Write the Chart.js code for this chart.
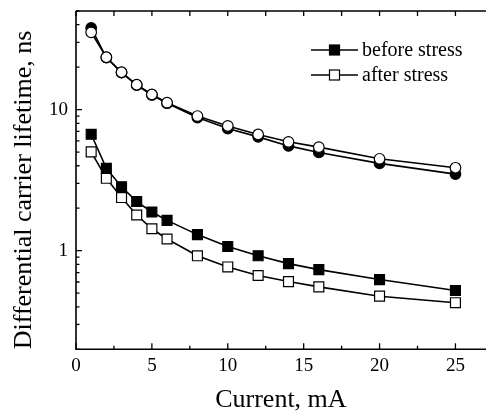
<!DOCTYPE html>
<html><head><meta charset="utf-8">
<script src="https://cdn.jsdelivr.net/npm/chart.js@4.4.0/dist/chart.umd.min.js"></script>
<style>html,body{margin:0;padding:0;background:#fff;overflow:hidden}#wrap{width:486px;height:416px;position:relative;overflow:hidden}</style>
</head><body><div id="wrap"><canvas id="c" width="494" height="416"></canvas></div>
<script>
const currents = [1,2,3,4,5,6,8,10,12,14,16,20,25];
const circBefore = [37.9,23.4,18.3,14.9,12.7,11.1,8.78,7.34,6.41,5.53,4.97,4.16,3.49];
const circAfter  = [35.3,23.5,18.4,15.0,12.8,11.2,9.0,7.66,6.66,5.91,5.42,4.48,3.87];
const sqBefore   = [6.69,3.83,2.84,2.23,1.88,1.64,1.30,1.07,0.92,0.81,0.734,0.624,0.522];
const sqAfter    = [5.02,3.26,2.38,1.79,1.43,1.21,0.92,0.767,0.667,0.604,0.554,0.476,0.428];
const xTicks = [0,5,10,15,20,25];
const xMinor = [2.5,7.5,12.5,17.5,22.5];
const yTicks = [1,10];
const legendLabels = ['before stress','after stress'];

const SERIF = "'Liberation Serif','Times New Roman',serif";
const pts = arr => currents.map((x,i)=>({x:x,y:arr[i]}));

function ds(label, arr, style, filled){
  return {label, data: pts(arr), borderColor:'#000', borderWidth:1.6,
    pointStyle: style, pointRadius: style==='rect'?7:5.3, pointBorderWidth:1.2,
    pointBorderColor:'#000', pointBackgroundColor: filled?'#000':'#fff',
    backgroundColor: filled?'#000':'#fff', showLine:true, tension:0, fill:false};
}

const framePlugin = {
  id:'frame',
  afterDraw(chart){
    const ctx = chart.ctx, a = chart.chartArea, xs = chart.scales.x, ys = chart.scales.y;
    ctx.save();
    ctx.strokeStyle = '#000'; ctx.lineWidth = 1.6; ctx.lineCap='butt';
    ctx.beginPath();
    ctx.moveTo(a.left, a.top); ctx.lineTo(a.left, a.bottom); ctx.lineTo(chart.width, a.bottom);
    ctx.moveTo(a.left, a.top); ctx.lineTo(chart.width, a.top);
    ctx.stroke();
    ctx.lineWidth = 1.3;
    ctx.beginPath();
    xTicks.forEach(v=>{const p = xs.getPixelForValue(v);
      ctx.moveTo(p, a.bottom); ctx.lineTo(p, a.bottom-6);
      ctx.moveTo(p, a.top); ctx.lineTo(p, a.top+5);});
    xMinor.forEach(v=>{const p = xs.getPixelForValue(v);
      ctx.moveTo(p, a.bottom); ctx.lineTo(p, a.bottom-3.5);
      ctx.moveTo(p, a.top); ctx.lineTo(p, a.top+5);});
    [0.1,1,10].forEach(d=>{
      for(let k=1;k<10;k++){
        const v = d*k; if(v<ys.min-1e-9||v>ys.max+1e-9) continue;
        const p = ys.getPixelForValue(v);
        const len = k===1?6:3.5;
        ctx.moveTo(a.left, p); ctx.lineTo(a.left+len, p);
      }
    });
    ctx.stroke();
    ctx.font = '20px '+SERIF; ctx.fillStyle='#000'; ctx.textBaseline='middle'; ctx.textAlign='left';
    legendLabels.forEach((lab,i)=>{
      const y = 50 + i*25;
      ctx.lineWidth = 1.6; ctx.beginPath(); ctx.moveTo(311,y); ctx.lineTo(358,y); ctx.stroke();
      ctx.fillStyle = i===0?'#000':'#fff'; ctx.lineWidth=1.2;
      ctx.fillRect(329.5,y-5,10,10); ctx.strokeRect(329.5,y-5,10,10);
      ctx.fillStyle='#000';
      ctx.fillText(lab, 362, y+1);
    });
    ctx.restore();
  }
};

new Chart(document.getElementById('c'), {
  type:'line',
  data:{datasets:[
    ds('after stress', circAfter, 'circle', false),
    ds('before stress', circBefore, 'circle', true),
    ds('before stress', sqBefore, 'rect', true),
    ds('after stress', sqAfter, 'rect', false)
  ]},
  options:{
    responsive:false, animation:false, devicePixelRatio:1,
    layout:{padding:{top:11,right:0,left:0,bottom:0}},
    plugins:{legend:{display:false}, tooltip:{enabled:false}},
    scales:{
      x:{type:'linear', min:0, max:27,
        afterBuildTicks: s => { s.ticks = xTicks.map(v=>({value:v})); },
        grid:{display:false, drawTicks:false}, border:{display:false},
        ticks:{font:{family:SERIF, size:19}, color:'#000', padding:5, maxRotation:0, autoSkip:false},
        title:{display:true, text:'Current, mA', font:{family:SERIF, size:26}, color:'#000', padding:{top:0,bottom:0}},
        afterFit: s => { s.height = 66.7; s.paddingLeft = 0; s.paddingRight = 0; }
      },
      y:{type:'logarithmic', min:0.2, max:50,
        afterBuildTicks: s => { s.ticks = yTicks.map(v=>({value:v})); },
        grid:{display:false, drawTicks:false}, border:{display:false},
        ticks:{font:{family:SERIF, size:19}, color:'#000', padding:8, autoSkip:false, callback: v => String(v)},
        title:{display:true, align:'start', text:'Differential carrier lifetime, ns', font:{family:SERIF, size:26}, color:'#000', padding:{top:9,bottom:0}},
        afterFit: s => { s.width = 76; s.paddingTop = 0; s.paddingBottom = 0; }
      }
    }
  },
  plugins:[framePlugin]
});
</script></body></html>
